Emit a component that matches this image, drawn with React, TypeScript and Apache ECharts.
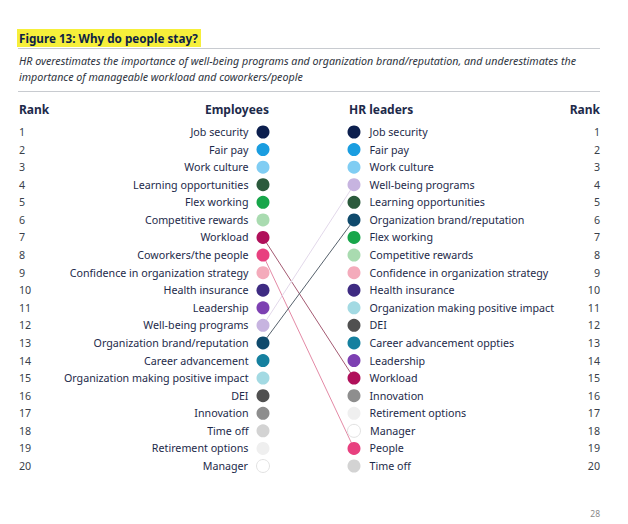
import React, { useEffect, useRef } from "react";
import * as echarts from "echarts";

const ranks = ["1","2","3","4","5","6","7","8","9","10","11","12","13","14","15","16","17","18","19","20"];

const employeeItems = [
  "Job security","Fair pay","Work culture","Learning opportunities","Flex working",
  "Competitive rewards","Workload","Coworkers/the people","Confidence in organization strategy","Health insurance",
  "Leadership","Well-being programs","Organization brand/reputation","Career advancement","Organization making positive impact",
  "DEI","Innovation","Time off","Retirement options","Manager",
];
const employeeColors = [
  "#0c1f4e","#1a9de0","#80cdf3","#2b5a3c","#17a64a",
  "#a9dbb0","#b0105a","#e8407f","#f4abbb","#3e2b82",
  "#7d40b2","#c7b4e0","#0f4a6c","#15809f","#a3dae3",
  "#505050","#8e8e8e","#d3d3d3","#efefef","#ffffff",
];

const hrItems = [
  "Job security","Fair pay","Work culture","Well-being programs","Learning opportunities",
  "Organization brand/reputation","Flex working","Competitive rewards","Confidence in organization strategy","Health insurance",
  "Organization making positive impact","DEI","Career advancement oppties","Leadership","Workload",
  "Innovation","Retirement options","Manager","People","Time off",
];
const hrColors = [
  "#0c1f4e","#1a9de0","#80cdf3","#c7b4e0","#2b5a3c",
  "#0f4a6c","#17a64a","#a9dbb0","#f4abbb","#3e2b82",
  "#a3dae3","#505050","#15809f","#7d40b2","#b0105a",
  "#8e8e8e","#efefef","#ffffff","#e8407f","#d3d3d3",
];

// connections: [employee rank, HR rank, line color]
const links: [number, number, string][] = [
  [7, 15, "#a45a72"],
  [8, 19, "#e48aa6"],
  [12, 4, "#e2d8ea"],
  [13, 6, "#56616c"],
];

const NAVY = "#1d2a4a";
const FONT = "'Noto Sans', 'Open Sans', sans-serif";

export default function App() {
  const ref = useRef<HTMLDivElement>(null);
  useEffect(() => {
    if (!ref.current) return;
    const chart = echarts.init(ref.current, null, { renderer: "svg" });

    const makeScatter = (items: string[], colors: string[], x: number, side: "left" | "right") => ({
      type: "scatter",
      symbolSize: 13,
      z: 5,
      data: items.map((name, i) => ({
        name,
        value: [x, i],
        itemStyle: {
          color: colors[i],
          opacity: 1,
          borderColor: colors[i] === "#ffffff" ? "#e2e2e2" : colors[i],
          borderWidth: colors[i] === "#ffffff" ? 1 : 0,
        },
      })),
      itemStyle: { opacity: 1 },
      emphasis: { disabled: true },
      label: {
        show: true,
        position: side,
        distance: side === "left" ? 8 : 9,
        formatter: "{b}",
        color: NAVY,
        fontSize: 10.7,
        fontFamily: FONT,
      },
    });

    const lineSeries = links.map(([a, b, c]) => ({
      type: "line",
      z: 2,
      symbol: "none",
      lineStyle: { color: c, width: 1 },
      data: [[0, a - 1], [1, b - 1]],
    }));

    chart.setOption({
      animation: false,
      grid: { left: 263, right: 274, top: 132, bottom: 58 },
      xAxis: { type: "value", min: 0, max: 1, show: false },
      yAxis: [
        {
          type: "category",
          data: ranks,
          inverse: true,
          boundaryGap: false,
          position: "left",
          axisLine: { show: false },
          axisTick: { show: false },
          splitLine: { show: false },
          axisLabel: { align: "left", margin: 244, color: "#3a3f4a", fontSize: 10.7, fontFamily: FONT },
        },
        {
          type: "category",
          data: ranks,
          inverse: true,
          boundaryGap: false,
          position: "right",
          axisLine: { show: false },
          axisTick: { show: false },
          splitLine: { show: false },
          axisLabel: { align: "right", margin: 246, color: "#3a3f4a", fontSize: 10.7, fontFamily: FONT },
        },
      ],
      series: [
        ...lineSeries,
        makeScatter(employeeItems, employeeColors, 0, "left"),
        makeScatter(hrItems, hrColors, 1, "right"),
      ],
      graphic: [
        { type: "rect", shape: { x: 17, y: 29, width: 184, height: 18 }, style: { fill: "#f6ef3a" } },
        { type: "text", x: 19, y: 38, style: { text: "Figure 13: Why do people stay?", fill: "#0d1f45", font: `bold 11.7px ${FONT}`, verticalAlign: "middle" } },
        { type: "line", shape: { x1: 18, y1: 48.5, x2: 600, y2: 48.5 }, style: { stroke: "#c8cbd0", lineWidth: 1 } },
        { type: "text", x: 19, y: 61, style: { text: "HR overestimates the importance of well-being programs and organization brand/reputation, and underestimates the", fill: "#2e3440", font: `italic 10.7px ${FONT}`, verticalAlign: "middle" } },
        { type: "text", x: 19, y: 77, style: { text: "importance of manageable workload and coworkers/people", fill: "#2e3440", font: `italic 10.7px ${FONT}`, verticalAlign: "middle" } },
        { type: "line", shape: { x1: 18, y1: 91.5, x2: 600, y2: 91.5 }, style: { stroke: "#c8cbd0", lineWidth: 1 } },
        { type: "text", x: 19, y: 109, style: { text: "Rank", fill: NAVY, font: `bold 12px ${FONT}`, verticalAlign: "middle" } },
        { type: "text", x: 269, y: 109, style: { text: "Employees", fill: NAVY, font: `bold 12px ${FONT}`, verticalAlign: "middle", align: "right" } },
        { type: "text", x: 349, y: 109, style: { text: "HR leaders", fill: NAVY, font: `bold 12px ${FONT}`, verticalAlign: "middle" } },
        { type: "text", x: 600, y: 109, style: { text: "Rank", fill: NAVY, font: `bold 12px ${FONT}`, verticalAlign: "middle", align: "right" } },
        { type: "text", x: 600, y: 513, style: { text: "28", fill: "#8a8a8a", font: `8.5px ${FONT}`, verticalAlign: "middle", align: "right" } },
      ],
    });
    return () => chart.dispose();
  }, []);
  return (
    <div
      ref={ref}
      style={{ position: "fixed", left: 0, top: 0, width: 628, height: 524, background: "#ffffff" }}
    />
  );
}
